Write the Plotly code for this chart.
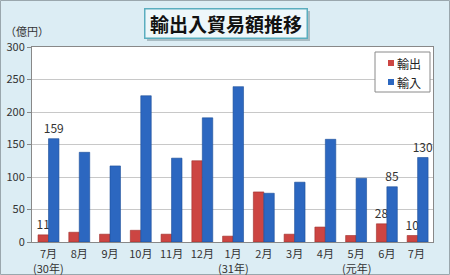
import plotly.graph_objects as go

months = ["7月", "8月", "9月", "10月", "11月", "12月", "1月",
          "2月", "3月", "4月", "5月", "6月", "7月 "]
year_marks = ["(30年)", "", "", "", "", "", "(31年)", "", "", "", "(元年)", "", ""]
exports = [11, 15, 12, 18, 12, 125, 9, 77, 12, 23, 10, 28, 10]
imports = [159, 138, 117, 225, 129, 191, 239, 75, 92, 158, 98, 85, 130]
export_labels = ["11", "", "", "", "", "", "", "", "", "", "", "28", "10"]
import_labels = ["159", "", "", "", "", "", "", "", "", "", "", "85", "130"]
series_names = ["輸出", "輸入"]
series_colors = ["#cc4542", "#2c67c0"]

W, H = 450, 275
L, R, T, B = 32, 17, 47, 33
PW, PH = W - L - R, H - T - B

def px(x):
    return (x - L) / PW

def py(y):
    return (H - B - y) / PH

font = "Noto Sans CJK JP, Noto Sans, sans-serif"

fig = go.Figure()
for name, vals, labels, col, lc in [
    (series_names[0], exports, export_labels, series_colors[0], "#9e2f2c"),
    (series_names[1], imports, import_labels, series_colors[1], "#1d4f98"),
]:
    fig.add_trace(go.Bar(
        x=months, y=vals, name=name, text=labels,
        textposition="outside", cliponaxis=False, constraintext="none",
        textfont=dict(size=12, color="#333333", family=font),
        marker=dict(color=col, line=dict(color=lc, width=0.6)),
        showlegend=False,
    ))

fig.update_layout(
    width=W, height=H,
    margin=dict(l=L, r=R, t=T, b=B),
    paper_bgcolor="#dcedf4",
    plot_bgcolor="#ffffff",
    barmode="group", bargap=0.32, bargroupgap=0,
    font=dict(family=font, size=11, color="#333333"),
    showlegend=False,
    xaxis=dict(
        showline=True, linecolor="#888888", mirror=True,
        ticks="", tickfont=dict(size=11, color="#333333"),
        ticklabelstandoff=2,
        showgrid=False, automargin=False,
    ),
    yaxis=dict(
        range=[0, 300], dtick=50, showgrid=True, gridcolor="#c8c8c8",
        showline=True, linecolor="#888888", mirror=True,
        ticks="outside", ticklen=4, tickcolor="#888888",
        tickfont=dict(size=11, color="#333333"),
        zeroline=False, automargin=False,
    ),
)

# year markers under month labels
for m, yr in zip(months, year_marks):
    if yr:
        fig.add_annotation(
            x=m, y=py(268), xref="x", yref="paper", yanchor="middle",
            text=yr, showarrow=False, borderpad=0,
            font=dict(size=11, color="#333333", family=font),
        )

# outer border
fig.add_shape(type="rect", xref="paper", yref="paper",
              x0=px(0.5), x1=px(W - 0.5), y0=py(H - 0.5), y1=py(0.5),
              line=dict(color="#9aa7ad", width=1), layer="below")
# title shadow
fig.add_shape(type="rect", xref="paper", yref="paper",
              x0=px(147), x1=px(310), y0=py(41), y1=py(11),
              fillcolor="#a9bcc3", line=dict(width=0), layer="below")
fig.add_annotation(
    x=px(225.5), y=py(23), xref="paper", yref="paper",
    xanchor="center", yanchor="middle",
    text="<b>輸出入貿易額推移</b>", showarrow=False,
    font=dict(size=19, color="#111111", family=font),
    bgcolor="#eef7fa", bordercolor="#5aaebf", borderwidth=1.5,
    borderpad=2, width=157, height=24,
)
fig.add_annotation(
    x=px(27), y=py(31), xref="paper", yref="paper",
    xanchor="center", yanchor="middle",
    text="（億円）", showarrow=False, borderpad=0,
    font=dict(size=11, color="#333333", family=font),
)

# legend (manual)
fig.add_shape(type="rect", xref="paper", yref="paper",
              x0=px(375), x1=px(430), y0=py(92), y1=py(52),
              fillcolor="#ffffff", line=dict(color="#8a8a8a", width=1))
for i, (name, col) in enumerate(zip(series_names, series_colors)):
    yc = 63 + i * 19
    fig.add_shape(type="rect", xref="paper", yref="paper",
                  x0=px(388), x1=px(394), y0=py(yc + 3), y1=py(yc - 3),
                  fillcolor=col, line=dict(width=0))
    fig.add_annotation(
        x=px(395), y=py(yc), xref="paper", yref="paper",
        xanchor="left", yanchor="middle", text=name, showarrow=False,
        font=dict(size=12, color="#222222", family=font),
    )

fig.write_html("out.html")
